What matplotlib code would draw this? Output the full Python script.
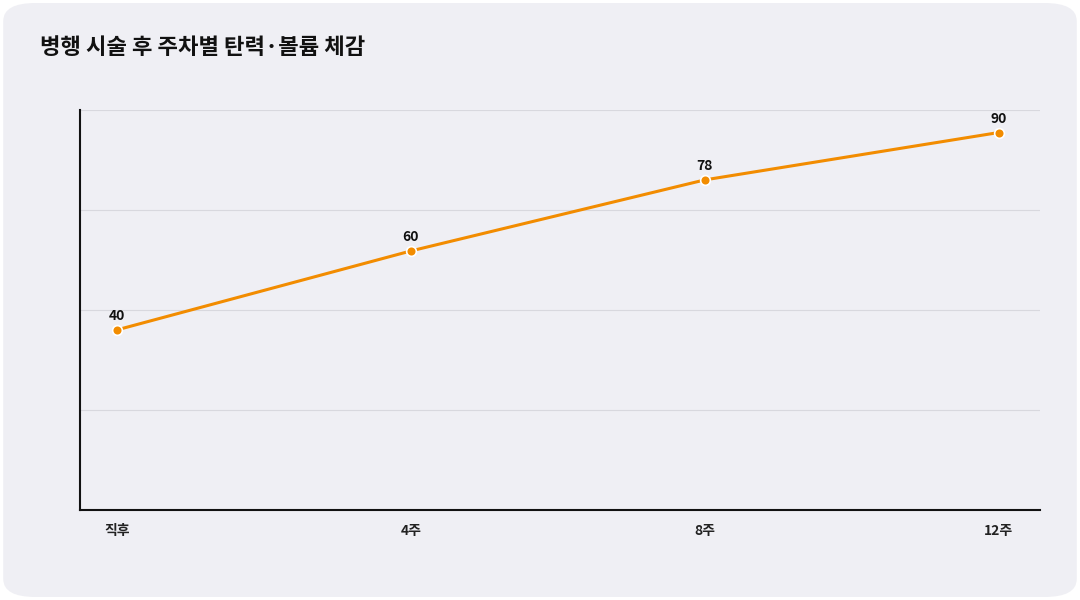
import matplotlib.pyplot as plt
import numpy as np
from matplotlib.patches import FancyBboxPatch

plt.rcParams['font.family'] = ['Noto Sans CJK KR', 'DejaVu Sans']

labels = ['직후', '4주', '8주', '12주']
values = [40, 60, 78, 90]

fig = plt.figure(figsize=(10.8, 6), dpi=100)
fig.patch.set_facecolor('white')
bg = FancyBboxPatch((0.003, 0.005), 0.994, 0.99, boxstyle='round,pad=0,rounding_size=0.03',
                    transform=fig.transFigure, facecolor='#efeff4', edgecolor='none', zorder=-1)
fig.patches.append(bg)

ax = fig.add_axes([80/1080, 90/600, 960/1080, 400/600])
ax.set_facecolor('#efeff4')
x = np.arange(len(labels))
ax.plot(x, values, color='#f28c00', lw=2.2, marker='o', ms=7,
        markeredgecolor='white', markeredgewidth=1.2, zorder=3)
for xi, v in zip(x, values):
    ax.annotate(str(v), (xi, v), xytext=(0, 5), textcoords='offset points',
                ha='center', va='bottom', fontsize=10, fontweight='bold', color='#111111')

ax.set_xlim(-0.125, 3.14)
ax.set_ylim(-5.6, 95.7)
ax.set_yticks(np.linspace(-5.6, 95.7, 5))
ax.set_yticklabels([])
ax.tick_params(axis='y', length=0)
ax.grid(axis='y', color='#d8d8de', lw=0.8)
ax.set_xticks(x)
ax.set_xticklabels(labels, fontsize=10, fontweight='bold', color='#222222')
ax.tick_params(axis='x', length=0, pad=10)
for s in ['top', 'right']:
    ax.spines[s].set_visible(False)
ax.spines['left'].set_color('#111111')
ax.spines['bottom'].set_color('#111111')
ax.spines['left'].set_linewidth(1.5)
ax.spines['bottom'].set_linewidth(1.5)

fig.text(40/1080, 1 - 48/600, '병행 시술 후 주차별 탄력·볼륨 체감', fontsize=16,
         fontweight='bold', va='center', ha='left', color='#111111')

fig.savefig('out.png', dpi=100, facecolor='white')
